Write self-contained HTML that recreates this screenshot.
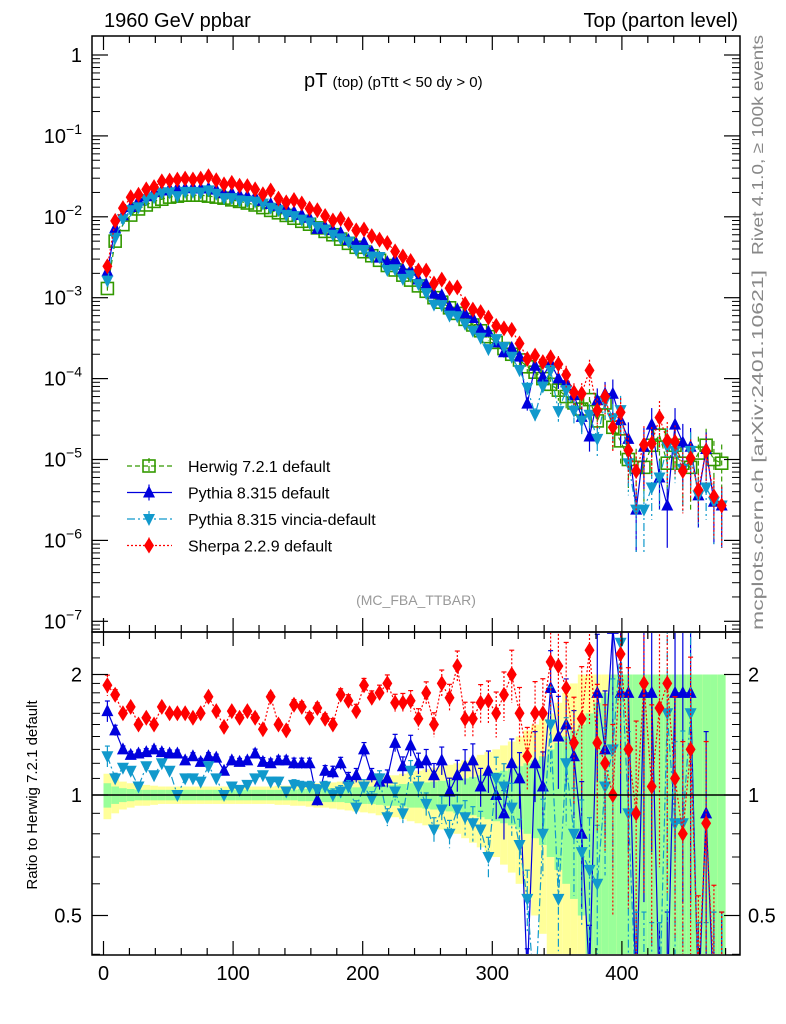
<!DOCTYPE html>
<html><head><meta charset="utf-8">
<style>
html,body{margin:0;padding:0;background:#fff;overflow:hidden;width:786px;height:1024px;}
svg{display:block;font-family:"Liberation Sans",sans-serif;}
</style></head>
<body>
<svg id="chart" width="786" height="1024" viewBox="0 0 786 1024" xmlns="http://www.w3.org/2000/svg">
<defs>
<clipPath id="clipMain"><rect x="92" y="36" width="648" height="595"/></clipPath>
<clipPath id="clipRatio"><rect x="92" y="633" width="648" height="321"/></clipPath>
</defs>
<g id="ratioBands" clip-path="url(#clipRatio)"></g>
<g id="mainMarks" clip-path="url(#clipMain)"></g>
<g id="ratioMarks" clip-path="url(#clipRatio)"></g>
<g id="axes"></g>
<text x="104" y="27" font-size="20">1960 GeV ppbar</text>
<text x="738" y="27" font-size="20" text-anchor="end">Top (parton level)</text>
<text x="304" y="87" font-size="20">pT <tspan font-size="15">(top)  (pTtt &lt; 50 dy &gt; 0)</tspan></text>
<text x="416" y="605" font-size="14" fill="#999" text-anchor="middle">(MC_FBA_TTBAR)</text>
<text transform="translate(763,255) rotate(-90)" font-size="16" fill="#888" textLength="220" lengthAdjust="spacingAndGlyphs">Rivet 4.1.0, ≥ 100k events</text>
<text transform="translate(763,630) rotate(-90)" font-size="16" fill="#888" textLength="360" lengthAdjust="spacingAndGlyphs">mcplots.cern.ch [arXiv:2401.10621]</text>
<text transform="translate(37,795) rotate(-90)" font-size="15" text-anchor="middle">Ratio to Herwig 7.2.1 default</text>
<g id="legend"></g>
</svg>
<script>
const binCenters=[];for(let i=0;i<80;i++)binCenters.push(3+6*i);
const herwig=[1.3e-3,5e-3,8e-3,1.05e-2,1.25e-2,1.4e-2,1.55e-2,1.65e-2,1.75e-2,1.8e-2,
1.85e-2,1.85e-2,1.85e-2,1.8e-2,1.75e-2,1.7e-2,1.62e-2,1.55e-2,1.48e-2,1.4e-2,
1.3e-2,1.2e-2,1.12e-2,1.04e-2,9.6e-3,8.8e-3,8.1e-3,7.3e-3,6.6e-3,6.0e-3,
5.3e-3,4.7e-3,4.2e-3,3.7e-3,3.3e-3,2.9e-3,2.5e-3,2.2e-3,1.9e-3,1.65e-3,
1.4e-3,1.2e-3,1.0e-3,8.8e-4,7.5e-4,6.4e-4,5.4e-4,4.6e-4,3.9e-4,3.3e-4,
2.8e-4,2.35e-4,2.0e-4,1.7e-4,1.4e-4,1.2e-4,1.0e-4,8.5e-5,7.2e-5,6e-5,
5e-5,4.2e-5,5.5e-5,3e-5,5e-5,2.5e-5,1.7e-5,1e-5,8e-6,8e-6,
1.5e-5,2e-5,9e-6,1.5e-5,9e-6,8e-6,1.2e-5,1.5e-5,1e-5,9e-6];
const pythiaRatio=[1.62,1.45,1.3,1.26,1.27,1.28,1.3,1.28,1.27,1.27,
1.22,1.25,1.21,1.25,1.24,1.15,1.22,1.21,1.22,1.27,
1.21,1.2,1.22,1.22,1.2,1.2,1.2,0.97,1.15,1.14,
1.2,1.1,1.12,1.3,1.12,1.08,1.1,1.35,1.18,1.33,
1.2,1.22,1.12,1.22,1.02,1.12,1.18,1.22,1.05,1.15,
1.0,0.9,1.2,1.1,0.35,1.2,1.05,1.85,1.4,1.5,
1.25,0.8,0.35,1.8,1.3,2.6,1.8,1.8,0.3,1.8,
1.8,0.3,0.3,1.8,1.8,1.8,0.3,0.9,0.3,0.3];
const vinciaRatio=[1.25,1.1,1.17,1.15,1.05,1.18,1.12,1.2,1.15,1.0,
1.1,1.1,1.08,1.18,1.1,1.0,1.05,1.03,1.06,1.1,
1.12,1.08,1.08,1.02,1.06,1.05,1.05,1.03,1.05,1.0,
1.02,1.05,0.93,1.05,0.98,1.1,0.88,1.02,0.9,1.15,
1.05,0.95,0.82,0.92,0.8,0.92,0.88,0.85,0.82,0.7,
1.1,1.05,0.93,0.75,0.55,0.3,0.8,1.5,0.55,1.2,
0.8,0.72,0.65,0.6,1.05,1.3,2.4,0.9,0.3,0.3,
0.3,0.3,1.6,0.85,0.85,1.6,0.3,0.3,0.3,0.3];
const sherpaRatio=[1.88,1.78,1.6,1.66,1.5,1.56,1.5,1.66,1.6,1.6,
1.6,1.56,1.6,1.76,1.62,1.48,1.62,1.56,1.62,1.56,
1.46,1.76,1.5,1.45,1.68,1.66,1.56,1.65,1.55,1.5,
1.78,1.72,1.62,1.88,1.75,1.8,1.9,1.7,1.7,1.72,
1.55,1.8,1.5,1.9,1.75,2.1,1.55,1.55,1.7,1.72,
1.6,1.78,2.0,1.6,1.25,1.6,1.6,2.15,2.1,1.85,
1.35,1.55,2.3,1.35,1.2,1.0,2.25,1.3,0.9,1.9,
1.05,1.65,1.9,1.1,0.8,1.3,0.35,0.85,0.35,0.3];
const relErr=[0.06,0.03,0.02,0.02,0.02,0.02,0.02,0.02,0.02,0.02,
0.02,0.02,0.02,0.02,0.02,0.02,0.02,0.02,0.02,0.025,
0.025,0.025,0.025,0.025,0.03,0.03,0.03,0.03,0.03,0.035,
0.035,0.035,0.04,0.04,0.04,0.045,0.05,0.05,0.055,0.06,
0.06,0.065,0.07,0.08,0.08,0.09,0.1,0.1,0.11,0.12,
0.13,0.14,0.15,0.16,0.18,0.2,0.22,0.24,0.26,0.3,
0.3,0.35,0.35,0.4,0.4,0.5,0.5,0.6,0.7,0.7,
0.6,0.6,0.7,0.6,0.7,0.7,0.6,0.6,0.7,0.7];
const bandGreen=[0.07,0.05,0.04,0.035,0.03,0.03,0.03,0.03,0.03,0.03,
0.03,0.03,0.03,0.03,0.03,0.03,0.03,0.03,0.03,0.03,
0.03,0.03,0.03,0.03,0.03,0.035,0.035,0.035,0.04,0.04,
0.04,0.045,0.045,0.05,0.05,0.055,0.06,0.06,0.065,0.07,
0.07,0.075,0.08,0.085,0.09,0.1,0.1,0.11,0.12,0.13,
0.14,0.15,0.16,0.18,0.2,0.22,0.25,0.3,0.35,0.4,
0.45,0.5,0.6,0.7,0.8,1,1,1,1,1,
1,1,1,1,1,1,1,1,1,1];
const bandYellow=[0.13,0.1,0.08,0.07,0.06,0.06,0.055,0.05,0.05,0.05,
0.05,0.05,0.05,0.05,0.05,0.05,0.05,0.05,0.05,0.05,
0.05,0.05,0.055,0.055,0.06,0.06,0.065,0.07,0.07,0.075,
0.08,0.085,0.09,0.095,0.1,0.11,0.12,0.12,0.13,0.14,
0.15,0.16,0.17,0.18,0.19,0.2,0.22,0.24,0.26,0.28,
0.3,0.33,0.36,0.4,0.45,0.5,0.55,0.6,0.7,0.8,
0.9,1,1,1,1,1,1,1,1,1,
1,1,1,1,1,1,1,1,1,1];
const xTicks=[0,100,200,300,400];
const yTickExps=[0,-1,-2,-3,-4,-5,-6,-7];
const ratioTicks=[0.5,1,2];

const NS="http://www.w3.org/2000/svg";
const X0=103.5,XS=1.296;
function xs(v){return X0+XS*v;}
function ym(v){return 55-80.9*Math.log10(v);}
function yr(r){return 795-120.5*Math.log2(r);}
function mk(tag,attrs,parent){const e=document.createElementNS(NS,tag);for(const k in attrs)e.setAttribute(k,attrs[k]);parent.appendChild(e);return e;}

const bands=document.getElementById('ratioBands');
binCenters.forEach((c,i)=>{
  const x1=xs(c-3),w=XS*6;
  const yb=mk('rect',{x:x1,y:yr(1+bandYellow[i]),width:w,height:yr(Math.max(0.05,1-bandYellow[i]))-yr(1+bandYellow[i]),fill:'#ffff99'},bands);
  
  
  const gb=mk('rect',{x:x1,y:yr(1+bandGreen[i]),width:w,height:yr(Math.max(0.05,1-bandGreen[i]))-yr(1+bandGreen[i]),fill:'#99ff99'},bands);
  
  
});

const series=[
 {name:'herwig',color:'#339900',dash:'5,3',marker:'square',ratio:herwig.map(()=>1),label:'Herwig 7.2.1 default'},
 {name:'pythia',color:'#0000dd',dash:'',marker:'up',ratio:pythiaRatio,label:'Pythia 8.315 default'},
 {name:'vincia',color:'#1199cc',dash:'8,3,2,3',marker:'down',ratio:vinciaRatio,label:'Pythia 8.315 vincia-default'},
 {name:'sherpa',color:'#ff0000',dash:'2,2',marker:'diamond',ratio:sherpaRatio,label:'Sherpa 2.2.9 default'}
];
function marker(type,x,y,color,parent){
  let e;
  if(type==='square')e=mk('rect',{x:x-6,y:y-6,width:12,height:12,fill:'none',stroke:color,'stroke-width':1.6},parent);
  else if(type==='up')e=mk('polygon',{points:`${x},${y-7} ${x-6},${y+5} ${x+6},${y+5}`,fill:color},parent);
  else if(type==='down')e=mk('polygon',{points:`${x},${y+7} ${x-6},${y-5} ${x+6},${y-5}`,fill:color},parent);
  else e=mk('polygon',{points:`${x},${y-8} ${x-5},${y} ${x},${y+8} ${x+5},${y}`,fill:color},parent);
  return e;
}
const mainG=document.getElementById('mainMarks'),ratioG=document.getElementById('ratioMarks');
series.forEach(s=>{
  const vals=herwig.map((h,i)=>h*s.ratio[i]);
  const gm=mk('g',{},mainG);
  
  
  const gr=mk('g',{},ratioG);
  
  
  const pm=vals.map((v,i)=>xs(binCenters[i]).toFixed(1)+','+ym(v).toFixed(1)).join(' ');
  const pr=s.ratio.map((r,i)=>xs(binCenters[i]).toFixed(1)+','+yr(r).toFixed(1)).join(' ');
  mk('polyline',{points:pm,fill:'none',stroke:s.color,'stroke-width':1.2,'stroke-dasharray':s.dash},gm);
  if(s.name!=='herwig')mk('polyline',{points:pr,fill:'none',stroke:s.color,'stroke-width':1.2,'stroke-dasharray':s.dash},gr);
  vals.forEach((v,i)=>{
    const x=xs(binCenters[i]),e=relErr[i];
    mk('line',{x1:x,x2:x,y1:ym(v*(1+e)),y2:ym(Math.max(v*(1-e),1e-9)),stroke:s.color,'stroke-width':1.2,'stroke-dasharray':s.dash},gm);
    const m=marker(s.marker,x,ym(v),s.color,gm);
    
    
    if(s.name!=='herwig'){
      const r=s.ratio[i];
      mk('line',{x1:x,x2:x,y1:yr(r*(1+e)),y2:yr(Math.max(r*(1-e),0.01)),stroke:s.color,'stroke-width':1.2,'stroke-dasharray':s.dash},gr);
      mk('line',{x1:x-2.5,x2:x+2.5,y1:yr(r*(1+e)),y2:yr(r*(1+e)),stroke:s.color,'stroke-width':1.2},gr);
      const rm=marker(s.marker,x,yr(r),s.color,gr);
      
      
    }
  });
});

// axes
const ax=document.getElementById('axes');
mk('line',{x1:92,x2:740,y1:795,y2:795,stroke:'#000','stroke-width':1.5},ax);
mk('rect',{x:92,y:36,width:648,height:596,fill:'none',stroke:'#000','stroke-width':1.5},ax);
mk('rect',{x:92,y:632,width:648,height:323,fill:'none',stroke:'#000','stroke-width':1.5},ax);
for(let v=0;v<=480;v+=20){
  const x=xs(v),L=(v%100===0)?14:7;
  [[36,1],[632,-1],[632,1],[955,-1]].forEach(([y,d])=>mk('line',{x1:x,x2:x,y1:y,y2:y+d*L,stroke:'#000','stroke-width':1.2},ax));
}
xTicks.forEach(v=>{const t=mk('text',{x:xs(v),y:980,'font-size':20,'text-anchor':'middle'},ax);t.textContent=v;
 
 });
yTickExps.forEach(e=>{
  const y=ym(Math.pow(10,e));
  mk('line',{x1:92,x2:108,y1:y,y2:y,stroke:'#000','stroke-width':1.2},ax);
  mk('line',{x1:724,x2:740,y1:y,y2:y,stroke:'#000','stroke-width':1.2},ax);
  for(let k=2;k<10;k++){const yy=ym(k*Math.pow(10,e-1));if(yy<36||yy>631)continue;
    mk('line',{x1:92,x2:100,y1:yy,y2:yy,stroke:'#000','stroke-width':1},ax);
    mk('line',{x1:732,x2:740,y1:yy,y2:yy,stroke:'#000','stroke-width':1},ax);}
  const t=mk('text',{x:82,y:y+7,'font-size':20,'text-anchor':'end'},ax);
  
  
  if(e===0)t.textContent='1';
  else{t.textContent='10';const s=mk('tspan',{dy:-9,'font-size':14},t);s.textContent='−'+(-e);}
});
[0.4,0.6,0.7,0.8,0.9,1.1,1.2,1.3,1.4,1.5,1.6,1.7,1.8,1.9,2.2,2.4].forEach(r=>{const y=yr(r);
  mk('line',{x1:92,x2:100,y1:y,y2:y,stroke:'#000','stroke-width':1},ax);
  mk('line',{x1:732,x2:740,y1:y,y2:y,stroke:'#000','stroke-width':1},ax);});
ratioTicks.forEach(r=>{const y=yr(r);
  mk('line',{x1:92,x2:108,y1:y,y2:y,stroke:'#000','stroke-width':1.2},ax);
  mk('line',{x1:724,x2:740,y1:y,y2:y,stroke:'#000','stroke-width':1.2},ax);
  const t=mk('text',{x:82,y:y+7,'font-size':20,'text-anchor':'end'},ax);t.textContent=r;
  
  
  const t2=mk('text',{x:748,y:y+7,'font-size':20},ax);t2.textContent=r;
  
  });

// legend
const lg=document.getElementById('legend');
series.forEach((s,i)=>{
  const y=466+i*26.5;
  const g=mk('g',{},lg);
  
  
  mk('line',{x1:127,x2:172,y1:y,y2:y,stroke:s.color,'stroke-width':1.2,'stroke-dasharray':s.dash},g);
  mk('line',{x1:149,x2:149,y1:y-8,y2:y+8,stroke:s.color,'stroke-width':1.2,'stroke-dasharray':s.dash},g);
  marker(s.marker,149,y,s.color,g);
  const t=mk('text',{x:188,y:y+6,'font-size':16},g);t.textContent=s.label;
});
</script>
</body></html>
